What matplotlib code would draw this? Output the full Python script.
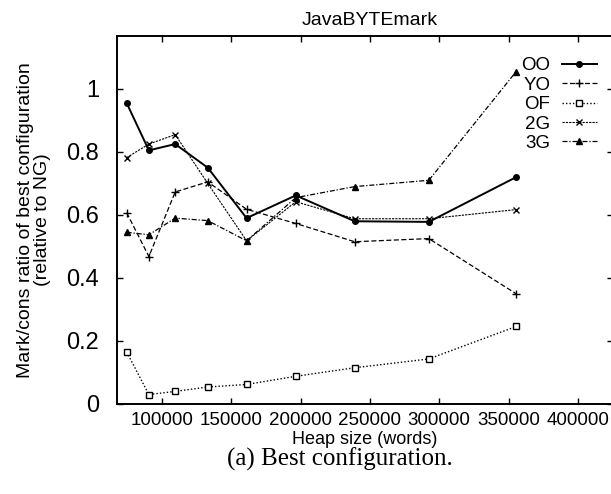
import matplotlib
matplotlib.use("Agg")
import matplotlib.pyplot as plt

# --- data ---
heap_sizes = [74500, 90500, 109500, 133000, 161000, 196500, 239000, 292500, 355500]
oo_vals = [0.955, 0.805, 0.825, 0.750, 0.590, 0.662, 0.580, 0.578, 0.720]
yo_vals = [0.607, 0.468, 0.673, 0.705, 0.618, 0.573, 0.515, 0.525, 0.350]
of_vals = [0.165, 0.030, 0.040, 0.054, 0.062, 0.088, 0.115, 0.143, 0.246]
g2_vals = [0.782, 0.825, 0.855, 0.700, 0.518, 0.642, 0.588, 0.588, 0.617]
g3_vals = [0.545, 0.537, 0.590, 0.582, 0.518, 0.655, 0.690, 0.710, 1.055]

x_ticks = [100000, 150000, 200000, 250000, 300000, 350000, 400000]
y_ticks = [0, 0.2, 0.4, 0.6, 0.8, 1]
y_tick_labels = ["0", "0.2", "0.4", "0.6", "0.8", "1"]

plt.rcParams["font.family"] = ["Liberation Sans", "DejaVu Sans"]

fig = plt.figure(figsize=(6.11, 4.94), dpi=100)
ax = fig.add_axes([117 / 611, 1 - 404 / 494, 496 / 611, 368 / 494])

ax.plot(heap_sizes, oo_vals, color="black", lw=1.4, ls="-",
        marker="o", ms=4, label="OO")
ax.plot(heap_sizes, yo_vals, color="black", lw=0.9, ls=(0, (4, 2)),
        marker="+", ms=6, mew=1.0, label="YO")
ax.plot(heap_sizes, of_vals, color="black", lw=1.0, ls=(0, (1, 1.5)),
        marker="s", ms=4.5, mfc="white", mew=1.0, label="OF")
ax.plot(heap_sizes, g2_vals, color="black", lw=0.8, ls=(0, (2, 1)),
        marker="x", ms=5, mew=1.0, label="2G")
ax.plot(heap_sizes, g3_vals, color="black", lw=0.9, ls=(0, (4, 1.5, 1, 1.5)),
        marker="^", ms=4.5, label="3G")

ax.set_xlim(67500, 425400)
ax.set_ylim(0, 1.168)
ax.set_xticks(x_ticks)
ax.set_xticklabels([str(t) for t in x_ticks], fontsize=13.5)
ax.set_yticks(y_ticks)
ax.set_yticklabels(y_tick_labels, fontsize=17)
ax.tick_params(direction="in", length=4, width=1, top=True, right=True)
ax.tick_params(axis="x", pad=6)
ax.tick_params(axis="y", pad=13)

for s in ax.spines.values():
    s.set_linewidth(1.4)

ax.set_title("JavaBYTEmark", fontsize=14, pad=8, x=0.51)
ax.set_xlabel("Heap size (words)", fontsize=13, labelpad=1)
ax.set_ylabel("Mark/cons ratio of best configuration\n(relative to NG)",
              fontsize=14, labelpad=11, linespacing=1.0)

leg = ax.legend(loc="upper right", bbox_to_anchor=(0.968, 0.942),
                markerfirst=False, frameon=False, fontsize=13.5,
                handlelength=1.9, handletextpad=0.6, labelspacing=0.12,
                borderpad=0, borderaxespad=0)

fig.text(340 / 611, 1 - 459 / 494, "(a) Best configuration.",
         family="Liberation Serif", fontsize=18, ha="center", va="center")

fig.savefig("out.png", dpi=100)
